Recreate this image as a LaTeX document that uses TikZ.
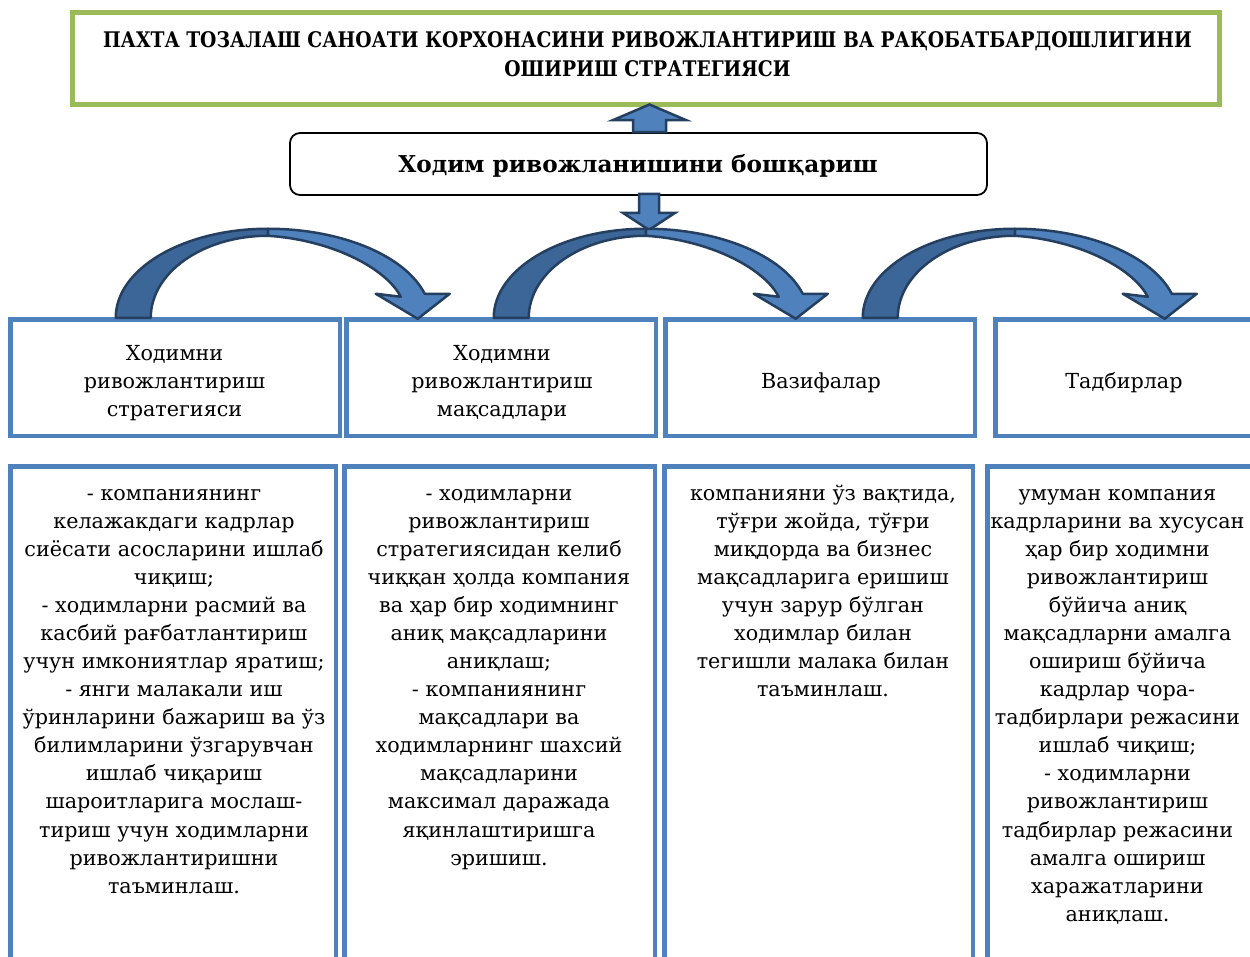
\documentclass[tikz,border=0pt]{standalone}
\usepackage{fontspec}
\setmainfont{DejaVu Serif}
\usetikzlibrary{calc}
\definecolor{gr}{HTML}{9BBB59}
\definecolor{bl}{HTML}{4F81BD}
\definecolor{dk}{HTML}{243F60}
\definecolor{bk}{HTML}{3D6698}
\tikzset{
  greenbox/.style={draw=gr, line width=5pt, minimum width=1147pt, minimum height=92pt, inner sep=0pt},
  midbox/.style={draw=black, line width=1.8pt, rounded corners=10pt, minimum width=697pt, minimum height=62pt, inner sep=0pt},
  topbox/.style={draw=bl, line width=4.5pt, minimum height=116.5pt, inner sep=0pt},
  lowbox/.style={draw=bl, line width=4.5pt, minimum height=560pt, anchor=north, inner sep=0pt},
  txt/.style={font=\fontsize{20.7}{28.07}\selectfont, align=center, inner sep=0pt},
  titletxt/.style={font=\bfseries\fontsize{21.5}{29}\selectfont, inner sep=0pt},
  midtxt/.style={font=\bfseries\fontsize{23.2}{28}\selectfont, inner sep=0pt},
  blockarrow/.style={fill=bl, draw=dk, line width=2.5pt, line join=miter},
  bentarrow/.pic={
    \path[fill=bl, draw=dk, line width=2.5pt, line join=round]
      (152,89) arc[start angle=90, end angle=15.6, x radius=163pt, y radius=89pt]
      -- (334,24) -- (302,-1) -- (260,24) -- (285,21)
      .. controls (270,50) and (215,78) .. (152,82)
      -- cycle;
    \path[fill=bk, draw=dk, line width=2.5pt, line join=round]
      (0,0) arc[start angle=180, end angle=90, x radius=152pt, y radius=89pt]
      -- (152,82) arc[start angle=90, end angle=180, x radius=117pt, y radius=82pt]
      -- cycle;
  }
}
\newcommand{\fs}{\rule{0pt}{19pt}}
\begin{document}
\begin{tikzpicture}[x=1pt,y=1pt]
\useasboundingbox[fill=white] (0,0) rectangle (1250,-956);

% title
\node[greenbox] (title) at (646,-58.5) {};
\node[titletxt, anchor=base] (titletext) at (647.5,-47.5) {\scalebox{0.872}[1]{ПАХТА ТОЗАЛАШ САНОАТИ КОРХОНАСИНИ РИВОЖЛАНТИРИШ ВА РАҚОБАТБАРДОШЛИГИНИ}};
\node[titletxt, anchor=base] (titletext2) at (647.5,-76.5) {\scalebox{0.872}[1]{ОШИРИШ СТРАТЕГИЯСИ}};

% management box
\node[midbox] (mgmt) at (638.5,-164) {};
\node[midtxt, anchor=base] (mgmttext) at (638,-172) {Ходим ривожланишини бошқариш};

% row 1 boxes
\node[topbox, minimum width=329.5pt] (s1) at (175,-377.5) {};
\node[topbox, minimum width=309.5pt] (s2) at (501,-377.5) {};
\node[topbox, minimum width=309.5pt] (s3) at (820,-377.5) {};
\node[topbox, minimum width=270pt] (s4) at (1130.25,-377.5) {};

\node[txt, anchor=north] (s1t) at (174.5,-341) {\fs Ходимни\\ривожлантириш\\стратегияси};
\node[txt, anchor=north] (s2t) at (502,-341) {\fs Ходимни\\ривожлантириш\\мақсадлари};
\node[txt, anchor=base] (s3t) at (821,-388) {Вазифалар};
\node[txt, anchor=base] (s4t) at (1124,-388) {Тадбирлар};

% row 2 boxes
\node[lowbox, minimum width=325.5pt] (d1) at (173,-464.25) {};
\node[lowbox, minimum width=310.5pt] (d2) at (499.5,-464.25) {};
\node[lowbox, minimum width=308.5pt] (d3) at (818.5,-464.25) {};
\node[lowbox, minimum width=290pt] (d4) at (1132.25,-464.25) {};

\node[txt, anchor=north] (d1t) at (174,-481) {\fs - компаниянинг\\келажакдаги кадрлар\\сиёсати асосларини ишлаб\\чиқиш;\\- ходимларни расмий ва\\касбий рағбатлантириш\\учун имкониятлар яратиш;\\- янги малакали иш\\ўринларини бажариш ва ўз\\билимларини ўзгарувчан\\ишлаб чиқариш\\шароитларига мослаш-\\тириш учун ходимларни\\ривожлантиришни\\таъминлаш.};
\node[txt, anchor=north] (d2t) at (499,-481) {\fs - ходимларни\\ривожлантириш\\стратегиясидан келиб\\чиққан ҳолда компания\\ва ҳар бир ходимнинг\\аниқ мақсадларини\\аниқлаш;\\- компаниянинг\\мақсадлари ва\\ходимларнинг шахсий\\мақсадларини\\максимал даражада\\яқинлаштиришга\\эришиш.};
\node[txt, anchor=north] (d3t) at (823,-481) {\fs компанияни ўз вақтида,\\тўғри жойда, тўғри\\миқдорда ва бизнес\\мақсадларига еришиш\\учун зарур бўлган\\ходимлар билан\\тегишли малака билан\\таъминлаш.};
\node[txt, anchor=north] (d4t) at (1117.5,-481) {\fs умуман компания\\кадрларини ва хусусан\\ҳар бир ходимни\\ривожлантириш\\бўйича аниқ\\мақсадларни амалга\\ошириш бўйича\\кадрлар чора-\\тадбирлари режасини\\ишлаб чиқиш;\\- ходимларни\\ривожлантириш\\тадбирлар режасини\\амалга ошириш\\харажатларини\\аниқлаш.};

% up arrow (mgmt -> title)
\coordinate (ub) at ($(mgmt.north)+(11,0)$);
\coordinate (ut) at ($(title.south)+(3.5,2.5)$);
\draw[blockarrow] ($(ub)+(-16.5,0)$) -- ($(ub)+(-16.5,12)$) -- ($(ub)+(-36.5,12)$) -- (ut)
  -- ($(ub)+(36.5,12)$) -- ($(ub)+(16.5,12)$) -- ($(ub)+(16.5,0)$) -- cycle;

% down arrow (mgmt -> bent arrows)
\coordinate (db) at ($(mgmt.south)+(10.5,2)$);
\draw[blockarrow] ($(db)+(-10,0)$) -- ($(db)+(-10,-19)$) -- ($(db)+(-26,-19)$) -- ($(db)+(0,-36)$)
  -- ($(db)+(26,-19)$) -- ($(db)+(10,-19)$) -- ($(db)+(10,0)$) -- cycle;

% bent arrows between row-1 boxes
\coordinate (c1) at ($(s1.north west)+(107.75,-0.75)$);
\coordinate (c2) at ($(s2.north west)+(149.75,-0.75)$);
\coordinate (c3) at ($(s4.north west)+(-130.25,-0.75)$);
\pic at (c1) {bentarrow};
\pic at (c2) {bentarrow};
\pic at (c3) {bentarrow};
\end{tikzpicture}
\end{document}
